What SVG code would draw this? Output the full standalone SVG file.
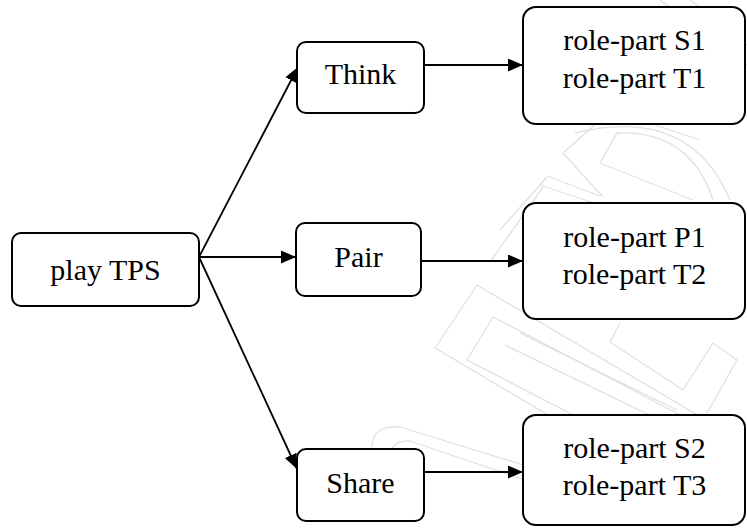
<svg xmlns="http://www.w3.org/2000/svg" width="747" height="528" viewBox="0 0 747 528">
  <style>
    .box { fill: #ffffff; stroke: #000000; stroke-width: 2; }
    .lbl { font-size: 30px; fill: #000000; text-anchor: middle; }
    .edge { stroke: #000000; stroke-width: 1.8; fill: none; marker-end: url(#tip); }
    .wm { fill: none; stroke: #e0e0e0; stroke-width: 1.3; stroke-linejoin: round; }
  </style>
  <defs>
    <marker id="tip" markerUnits="userSpaceOnUse" markerWidth="16" markerHeight="14" refX="15" refY="6.5" orient="auto">
      <path d="M0,0 L15,6.5 L0,13 Z" fill="#000000"/>
    </marker>
  </defs>

  <rect x="0" y="0" width="747" height="528" fill="#ffffff"/>

  <!-- faint background logo -->
  <g id="backdrop">
    <path class="wm" d="M740,440 L477,285 L435,348 L700,505"/>
    <path class="wm" d="M690,420 L493,317 L467,360 L680,470"/>
    <path class="wm" d="M620,323 L610,342 L683,390 L713,343 L737,360 L707,413"/>
    <path class="wm" d="M520,333 L677,410"/>
    <path class="wm" d="M505,345 L670,425"/>
    <path class="wm" d="M600,163 L693,200 M600,163 L617,133 Q690,130 713,200"/>
    <path class="wm" d="M563,153 L597,123 M563,153 L603,197 M575,133 Q690,105 730,200"/>
    <path class="wm" d="M500,230 L547,177 M490,262 L543,187"/>
    <path class="wm" d="M540,185 L600,205 M547,176 L600,196"/>
    <path class="wm" d="M372,447 Q372,425 400,427 L530,467"/>
    <path class="wm" d="M390,455 Q392,440 410,441 L525,480"/>
    <path class="wm" d="M640,120 L700,140 M690,0 L747,45 M660,0 L747,65"/>
  </g>

  <!-- connectors -->
  <g id="connectors">
    <line class="edge" x1="199" y1="257" x2="298" y2="67"/>
    <line class="edge" x1="199" y1="257" x2="296" y2="257"/>
    <line class="edge" x1="199" y1="257" x2="297" y2="469"/>
    <line class="edge" x1="424" y1="65" x2="523" y2="65"/>
    <line class="edge" x1="421" y1="261" x2="523" y2="261"/>
    <line class="edge" x1="424" y1="472" x2="523" y2="472"/>
  </g>

  <g id="play-tps">
    <rect class="box" x="12" y="233" width="187" height="73" rx="9"/>
    <text class="lbl" x="105.5" y="280" font-family="Liberation Serif, serif">play TPS</text>
  </g>

  <g id="think">
    <rect class="box" x="297" y="42" width="127" height="71" rx="9"/>
    <text class="lbl" x="360.5" y="84" font-family="Liberation Serif, serif">Think</text>
  </g>

  <g id="pair">
    <rect class="box" x="296" y="223" width="125" height="73" rx="9"/>
    <text class="lbl" x="358.5" y="267" font-family="Liberation Serif, serif">Pair</text>
  </g>

  <g id="share">
    <rect class="box" x="297" y="449" width="127" height="72" rx="9"/>
    <text class="lbl" x="360.5" y="493" font-family="Liberation Serif, serif">Share</text>
  </g>

  <g id="roles-1">
    <rect class="box" x="523" y="7" width="222" height="117" rx="13"/>
    <text class="lbl" x="634.5" y="50" font-family="Liberation Serif, serif">role-part S1</text>
    <text class="lbl" x="634.5" y="88" font-family="Liberation Serif, serif">role-part T1</text>
  </g>

  <g id="roles-2">
    <rect class="box" x="523" y="203" width="222" height="116" rx="13"/>
    <text class="lbl" x="634.5" y="247" font-family="Liberation Serif, serif">role-part P1</text>
    <text class="lbl" x="634.5" y="284" font-family="Liberation Serif, serif">role-part T2</text>
  </g>

  <g id="roles-3">
    <rect class="box" x="523" y="415" width="222" height="110" rx="13"/>
    <text class="lbl" x="634.5" y="458" font-family="Liberation Serif, serif">role-part S2</text>
    <text class="lbl" x="634.5" y="495" font-family="Liberation Serif, serif">role-part T3</text>
  </g>
</svg>
